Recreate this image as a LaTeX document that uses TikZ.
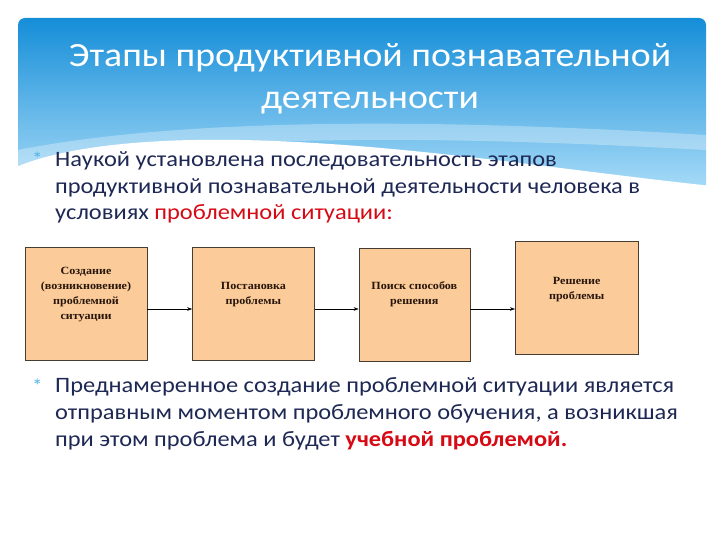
\documentclass[tikz,border=0pt]{standalone}
\usepackage{fontspec}
\setmainfont{Carlito}[FakeStretch=1.11]
\newfontfamily\boxfont{Liberation Serif}[FakeStretch=1.1]
\usetikzlibrary{positioning,arrows.meta}

\definecolor{skytop}{RGB}{21,142,216}
\definecolor{skybot}{RGB}{170,220,248}
\definecolor{bodyblue}{RGB}{30,40,84}
\definecolor{starblue}{RGB}{80,180,232}
\definecolor{hotred}{RGB}{214,10,20}
\definecolor{peach}{RGB}{251,203,153}
\definecolor{boxline}{RGB}{70,60,50}

\begin{document}
\begin{tikzpicture}[x=1pt,y=-1pt,
  stage/.style={draw=boxline,fill=peach,minimum width=122pt,inner sep=0pt,
    align=center,font=\boxfont\bfseries\fontsize{11}{15}\selectfont,
    text={rgb,255:red,40;green,22;blue,12}},
  para/.style={anchor=base west,align=left,text=bodyblue,inner sep=0pt,
    font=\fontsize{22}{27}\selectfont},
  star/.style={anchor=base west,text=starblue,inner sep=0pt,font=\fontsize{19}{19}\selectfont},
  step arrow/.style={-{Stealth[length=5pt,width=3.5pt]},thin}]
  \useasboundingbox (0,0) rectangle (720,540);

  % banner
  \shade[top color=skytop,bottom color=skybot,rounded corners=7pt] (18,18) rectangle (706,192);
  \fill[white,opacity=0.3] (18,150) .. controls (180,118) and (430,118) .. (706,135)
    -- (706,150) .. controls (450,136) and (200,132) .. (18,168) -- cycle;
  \fill[white] (10,170) .. controls (50,150) and (130,138) .. (240,140)
    .. controls (400,143) and (560,170) .. (712,186) -- (712,200) -- (10,200) -- cycle;
  \node[text=white,align=center,font=\fontsize{34}{42}\selectfont] (title) at (370,79)
    {Этапы продуктивной познавательной\\деятельности};

  % text
  \node[star] (b1) at (32,166) {*};
  \node[para] (p1) at (55,220) {Наукой установлена последовательность этапов\\
    продуктивной познавательной деятельности человека в\\
    условиях \textcolor{hotred}{проблемной ситуации:}};

  % stages
  \node[stage,text height=72pt,text depth=41pt] (s1) at (86,303.5)
    {Создание\\(возникновение)\\проблемной\\ситуации};
  \node[stage,text height=57pt,text depth=56pt,right=45pt of s1] (s2) {Постановка\\проблемы};
  \node[stage,text height=56pt,text depth=57pt,right=44pt of s2,minimum width=111pt,yshift=-1pt] (s3)
    {Поиск способов\\решения};
  \node[stage,text height=58pt,text depth=55pt,right=45pt of s3,minimum width=123pt,yshift=7pt] (s4)
    {Решение\\проблемы};

  \draw[step arrow] ([yshift=-5.5pt]s1.east) -- ([yshift=-5.5pt]s1.east -| s2.west);
  \draw[step arrow] ([yshift=-5.5pt]s2.east) -- ([yshift=-5.5pt]s2.east -| s3.west);
  \draw[step arrow] ([yshift=-4.5pt]s3.east) -- ([yshift=-4.5pt]s3.east -| s4.west);

  \node[star] (b2) at (32,392) {*};
  \node[para] (p2) at (55,446) {Преднамеренное создание проблемной ситуации является\\
    отправным моментом проблемного обучения, а возникшая\\
    при этом проблема и будет \textcolor{hotred}{\bfseries учебной проблемой.}};
\end{tikzpicture}
\end{document}
